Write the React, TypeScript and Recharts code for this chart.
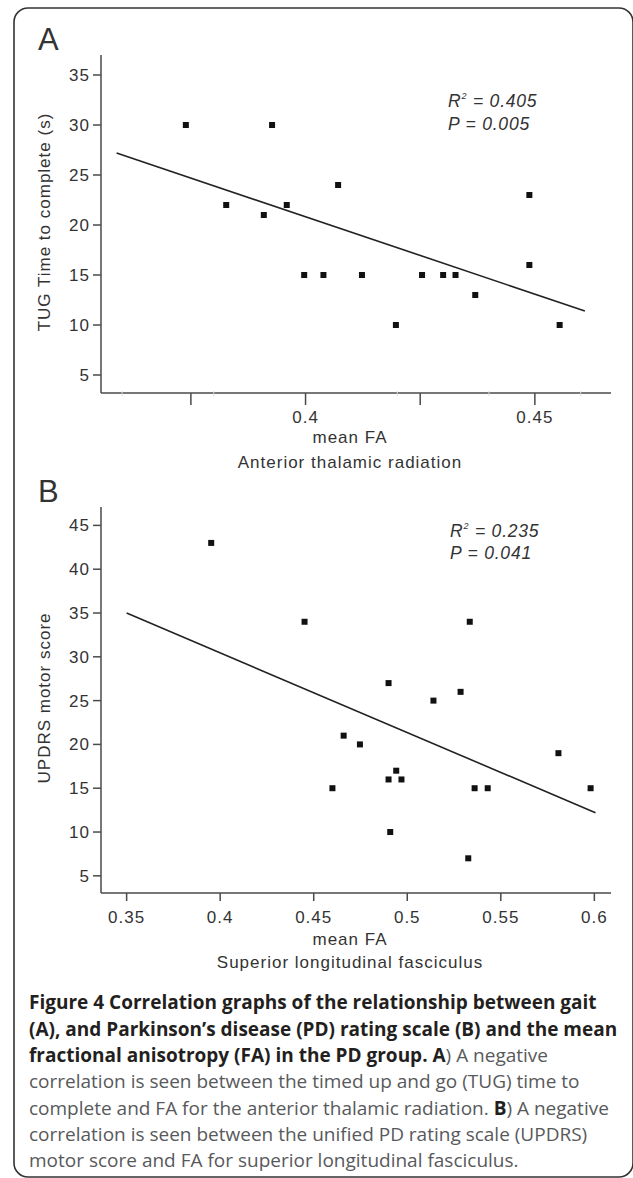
import React from 'react';
import { ScatterChart, Scatter, XAxis, YAxis, ReferenceLine } from 'recharts';

// Panel A: anterior thalamic radiation vs TUG time
const faA = [0.3739, 0.3927, 0.3827, 0.3909, 0.3959, 0.4071, 0.3997, 0.4039, 0.4123, 0.4254, 0.43, 0.4327, 0.437, 0.4488, 0.4488, 0.4197, 0.4554];
const tugA = [30, 30, 22, 21, 22, 24, 15, 15, 15, 15, 15, 15, 13, 23, 16, 10, 10];
const fitFaA = [0.3588, 0.4609];
const fitTugA = [27.2, 11.4];
const yTicksA = [5, 10, 15, 20, 25, 30, 35];
const xMajorA = [0.375, 0.4, 0.425, 0.45];
const xLabelsA = ['', '0.4', '', '0.45'];
const xMinorA = [0.36, 0.38, 0.42, 0.44, 0.46];

// Panel B: superior longitudinal fasciculus vs UPDRS motor score
const faB = [0.3952, 0.4451, 0.5334, 0.49, 0.5285, 0.514, 0.466, 0.4747, 0.5808, 0.4941, 0.49, 0.4969, 0.46, 0.536, 0.543, 0.598, 0.4909, 0.5326];
const updrsB = [43, 34, 34, 27, 26, 25, 21, 20, 19, 17, 16, 16, 15, 15, 15, 15, 10, 7];
const fitFaB = [0.35, 0.6006];
const fitUpdrsB = [35, 12.2];
const yTicksB = [5, 10, 15, 20, 25, 30, 35, 40, 45];
const xMajorB = [0.35, 0.4, 0.45, 0.5, 0.55, 0.6];
const xLabelsB = ['0.35', '0.4', '0.45', '0.5', '0.55', '0.6'];

const axisColor = '#4a4a4a';
const textColor = '#333';
const sans = '"Liberation Sans", Arial, sans-serif';

const pointsA = faA.map((x, i) => ({ x, y: tugA[i] }));
const pointsB = faB.map((x, i) => ({ x, y: updrsB[i] }));

const square = (p: any) => <rect x={p.cx - 3} y={p.cy - 3} width={6} height={6} fill="#111" />;

function makeXTick(major: number[], labels: string[], minor: number[], len: number) {
  return (p: any) => {
    const v = p.payload.value;
    if (minor.includes(v)) {
      return <line x1={p.x} x2={p.x} y1={p.y - 2} y2={p.y + 3} stroke="#dadada" strokeWidth={1} />;
    }
    const i = major.indexOf(v);
    return (
      <g>
        <line x1={p.x} x2={p.x} y1={p.y} y2={p.y + len} stroke={axisColor} strokeWidth={1.5} />
        <text x={p.x} y={p.y + 30} textAnchor="middle" fontSize={17} fill={textColor} fontFamily={sans} letterSpacing={1}>
          {labels[i]}
        </text>
      </g>
    );
  };
}

const yTickStyle = { fontSize: 17, fill: textColor, fontFamily: sans, letterSpacing: 1 };

function Caption() {
  const bold = '#231f20';
  const reg = '#58595b';
  const f = { fontFamily: '"Open Sans", sans-serif', fontSize: 19 };
  const lines = [1009, 1035.5, 1062, 1088, 1114.5, 1141, 1167];
  return (
    <g {...f}>
      <text x={29} y={lines[0]} fontWeight="bold" fill={bold}>Figure 4 Correlation graphs of the relationship between gait</text>
      <text x={29} y={lines[1]} fontWeight="bold" fill={bold}>(A), and Parkinson’s disease (PD) rating scale (B) and the mean</text>
      <text x={29} y={lines[2]} fill={reg}>
        <tspan fontWeight="bold" fill={bold}>fractional anisotropy (FA) in the PD group. A</tspan>) A negative
      </text>
      <text x={29} y={lines[3]} fill={reg}>correlation is seen between the timed up and go (TUG) time to</text>
      <text x={29} y={lines[4]} fill={reg}>
        complete and FA for the anterior thalamic radiation. <tspan fontWeight="bold" fill={bold}>B</tspan>) A negative
      </text>
      <text x={29} y={lines[5]} fill={reg}>correlation is seen between the unified PD rating scale (UPDRS)</text>
      <text x={29} y={lines[6]} fill={reg}>motor score and FA for superior longitudinal fasciculus.</text>
    </g>
  );
}

export default function App() {
  return (
    <div style={{ position: 'absolute', left: 0, top: 0, width: 633, height: 1178, background: '#fff', overflow: 'hidden' }}>
      <div style={{ position: 'absolute', left: 0, top: 0 }}>
        <ScatterChart width={633} height={430} margin={{ top: 55, right: 22, left: 61, bottom: 0 }}>
          <XAxis
            type="number"
            dataKey="x"
            domain={[0.3554, 0.4666]}
            ticks={[...xMajorA, ...xMinorA].sort((a, b) => a - b)}
            interval={0}
            height={37}
            tickSize={0}
            tickMargin={0}
            tickLine={false}
            axisLine={{ stroke: axisColor, strokeWidth: 1.5 }}
            tick={makeXTick(xMajorA, xLabelsA, xMinorA, 12)}
            allowDataOverflow
          />
          <YAxis
            type="number"
            dataKey="y"
            domain={[3.2, 37]}
            ticks={yTicksA}
            interval={0}
            width={40}
            tickSize={8}
            tickMargin={3}
            axisLine={{ stroke: axisColor, strokeWidth: 1.5 }}
            tickLine={{ stroke: axisColor, strokeWidth: 1.5 }}
            tick={yTickStyle}
            allowDataOverflow
          />
          <ReferenceLine
            segment={[{ x: fitFaA[0], y: fitTugA[0] }, { x: fitFaA[1], y: fitTugA[1] }]}
            stroke="#222"
            strokeWidth={1.6}
          />
          <Scatter data={pointsA} shape={square} isAnimationActive={false} />
        </ScatterChart>
      </div>
      <div style={{ position: 'absolute', left: 0, top: 450 }}>
        <ScatterChart width={633} height={480} margin={{ top: 57, right: 22, left: 61, bottom: 0 }}>
          <XAxis
            type="number"
            dataKey="x"
            domain={[0.3363, 0.6089]}
            ticks={xMajorB}
            interval={0}
            height={37}
            tickSize={0}
            tickMargin={0}
            tickLine={false}
            axisLine={{ stroke: axisColor, strokeWidth: 1.5 }}
            tick={makeXTick(xMajorB, xLabelsB, [], 8)}
            allowDataOverflow
          />
          <YAxis
            type="number"
            dataKey="y"
            domain={[3.04, 47.1]}
            ticks={yTicksB}
            interval={0}
            width={40}
            tickSize={8}
            tickMargin={3}
            axisLine={{ stroke: axisColor, strokeWidth: 1.5 }}
            tickLine={{ stroke: axisColor, strokeWidth: 1.5 }}
            tick={yTickStyle}
            allowDataOverflow
          />
          <ReferenceLine
            segment={[{ x: fitFaB[0], y: fitUpdrsB[0] }, { x: fitFaB[1], y: fitUpdrsB[1] }]}
            stroke="#222"
            strokeWidth={1.6}
          />
          <Scatter data={pointsB} shape={square} isAnimationActive={false} />
        </ScatterChart>
      </div>
      <svg width={633} height={1178} style={{ position: 'absolute', left: 0, top: 0, pointerEvents: 'none' }}>
        <rect x={14} y={8} width={619} height={1169} rx={14} fill="none" stroke="#333" strokeWidth={1.6} />
        <g fontFamily={sans} fill={textColor}>
          <text x={38} y={50} fontSize={31}>A</text>
          <text x={38} y={502} fontSize={31}>B</text>
          <text transform="translate(50,222) rotate(-90)" textAnchor="middle" fontSize={17} letterSpacing={1}>TUG Time to complete (s)</text>
          <text transform="translate(50,698) rotate(-90)" textAnchor="middle" fontSize={17} letterSpacing={1}>UPDRS motor score</text>
          <text x={350} y={443} textAnchor="middle" fontSize={17} letterSpacing={1}>mean FA</text>
          <text x={350} y={468} textAnchor="middle" fontSize={17} letterSpacing={1}>Anterior thalamic radiation</text>
          <text x={350} y={945} textAnchor="middle" fontSize={17} letterSpacing={1}>mean FA</text>
          <text x={350} y={968} textAnchor="middle" fontSize={17} letterSpacing={1}>Superior longitudinal fasciculus</text>
          <g fontStyle="italic" fontSize={17.5} letterSpacing={0.8}>
            <text x={448} y={107}>R<tspan fontSize={9} dy={-8}>2</tspan><tspan dy={8}> = 0.405</tspan></text>
            <text x={448} y={130}>P = 0.005</text>
            <text x={450} y={537}>R<tspan fontSize={9} dy={-8}>2</tspan><tspan dy={8}> = 0.235</tspan></text>
            <text x={450} y={559}>P = 0.041</text>
          </g>
        </g>
        <Caption />
      </svg>
    </div>
  );
}
